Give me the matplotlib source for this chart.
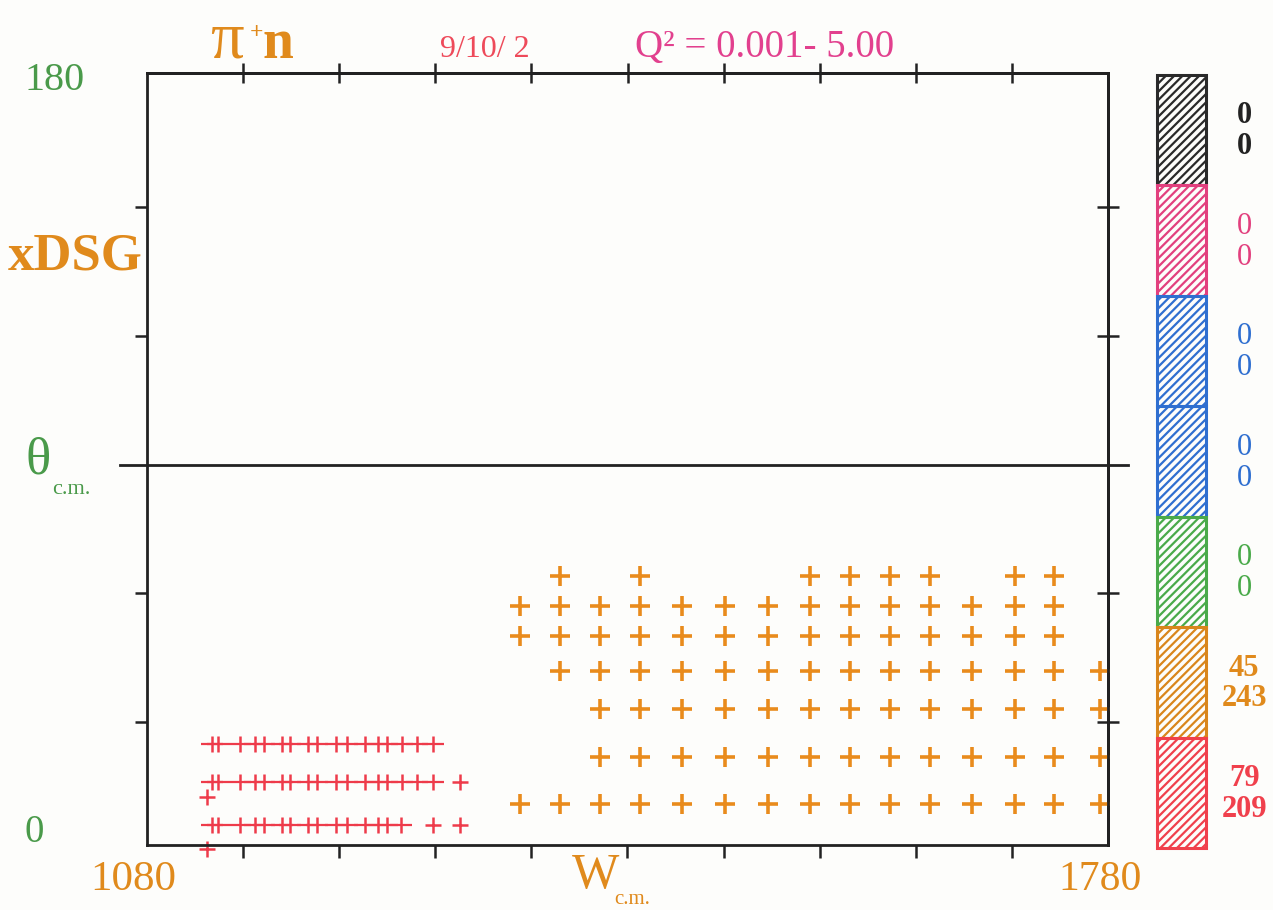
import numpy as np
import matplotlib
matplotlib.use("Agg")
import matplotlib.pyplot as plt
import matplotlib.patches as pat

plt.rcParams['font.family'] = ['Liberation Serif', 'DejaVu Serif']
plt.rcParams['hatch.linewidth'] = 1.6

# ---- data ----
# red (lower W) points: three rows of bins plus a few stray points
red_W_rows = [
    [1127, 1132, 1148, 1159, 1165, 1178, 1184, 1197, 1204, 1218, 1226, 1239, 1248, 1255, 1266, 1277, 1288],
    [1127, 1132, 1148, 1159, 1165, 1178, 1184, 1197, 1204, 1218, 1226, 1239, 1248, 1255, 1266, 1277, 1288],
    [1127, 1132, 1148, 1159, 1165, 1178, 1184, 1197, 1204, 1218, 1226, 1239, 1248, 1255, 1265],
]
red_th_rows = [25, 16, 6]
red_single_W = [1308, 1288, 1308, 1124, 1124]
red_single_th = [16, 6, 6, 12.5, 0.5]

# orange (higher W) grid
orange_cols = [1352, 1381, 1410, 1439, 1470, 1501, 1532, 1563, 1592, 1621, 1650, 1681, 1712, 1741, 1774]
orange_rows = {
    64: [1381, 1439, 1563, 1592, 1621, 1650, 1712, 1741],
    57: orange_cols[:14],
    50: orange_cols[:14],
    42: orange_cols[1:],
    33: orange_cols[2:],
    22: orange_cols[2:],
    11: orange_cols,
}

# colour key on the right
key_colors = ['#2a2a2a', '#e2407e', '#2f6fd0', '#2f6fd0', '#4aaa4a', '#d9861c', '#f0404c']
key_top = ['0', '0', '0', '0', '0', '45', '79']
key_bot = ['0', '0', '0', '0', '0', '243', '209']
key_text_colors = ['#222222', '#e2407e', '#2f6fd0', '#2f6fd0', '#4aaa4a', '#e08a1c', '#f0404c']
key_bold = [True, False, False, False, False, True, True]

xticks = np.arange(1150, 1711, 70)
yticks = [30, 60, 120, 150]

W_px, H_px = 1273, 910
fig = plt.figure(figsize=(W_px / 100, H_px / 100), dpi=100)
fig.patch.set_facecolor('#fdfdfb')

ax = fig.add_axes([147 / W_px, 1 - 845 / H_px, (1108 - 147) / W_px, (845 - 73) / H_px])
ax.set_facecolor('#fdfdfb')
ax.set_xlim(1080, 1780)
ax.set_ylim(1.4, 181.2)
for s in ax.spines.values():
    s.set_linewidth(2.0)
    s.set_color('#222222')

ax.set_xticks(xticks)
ax.set_yticks(yticks)
ax.tick_params(axis='both', direction='out', length=9, width=1.8, color='#222222',
               labelbottom=False, labelleft=False)

# top and right ticks cross the frame
top = ax.secondary_xaxis('top')
top.set_xticks(xticks)
top.tick_params(direction='inout', length=14, width=1.8, color='#222222', labeltop=False)
top.spines['top'].set_linewidth(2.0)
right = ax.secondary_yaxis('right')
right.set_yticks(yticks)
right.tick_params(direction='inout', length=16, width=1.8, color='#222222', labelright=False)
right.spines['right'].set_linewidth(2.0)

ax.axhline(90, xmin=-0.028, xmax=1.021, color='#222222', lw=2.0, clip_on=False)

red = '#ee3b4a'
orange = '#e98b1c'

# red bins: wide horizontal arm, shorter vertical arm
for th, ws in zip(red_th_rows, red_W_rows):
    ax.plot(ws, [th] * len(ws), ls='none', marker='_', ms=16, mew=1.6, color=red, clip_on=False)
    ax.plot(ws, [th] * len(ws), ls='none', marker='|', ms=12, mew=1.8, color=red, clip_on=False)
ax.plot(red_single_W, red_single_th, ls='none', marker='+', ms=11, mew=1.8, color=red, clip_on=False)

for th, ws in orange_rows.items():
    ax.plot(ws, [th] * len(ws), ls='none', marker='+', ms=14, mew=2.6, color=orange, clip_on=False)

# ---- labels around the frame ----
green = '#4a9a4a'
ax_or = '#e08a1c'
fig.text(210 / W_px, 1 - 58 / H_px, 'π', color=ax_or, fontsize=48, va='baseline', ha='left')
fig.text(250 / W_px, 1 - 38 / H_px, '+', color=ax_or, fontsize=17, fontweight='bold',
         va='baseline', ha='left')
fig.text(262 / W_px, 1 - 58 / H_px, 'n', color=ax_or, fontsize=40, fontweight='bold',
         va='baseline', ha='left')
fig.text(440 / W_px, 1 - 57 / H_px, '9/10/ 2', color='#ee4a5a', fontsize=23,
         va='baseline', ha='left')
fig.text(635 / W_px, 1 - 57 / H_px, 'Q² = 0.001- 5.00', color='#e2408e', fontsize=28,
         va='baseline', ha='left')
fig.text(25 / W_px, 1 - 80 / H_px, '180', color=green, fontsize=29, va='center', ha='left')
fig.text(8 / W_px, 1 - 257 / H_px, 'xDSG', color=ax_or, fontsize=38, fontweight='bold',
         va='center', ha='left')
fig.text(25 / W_px, 1 - 460 / H_px, 'θ', color=green, fontsize=38, va='center', ha='left')
fig.text(52 / W_px, 1 - 490 / H_px, 'c.m.', color=green, fontsize=16, va='center', ha='left')
fig.text(25 / W_px, 1 - 832 / H_px, '0', color=green, fontsize=28, va='center', ha='left')
fig.text(90 / W_px, 1 - 880 / H_px, '1080', color=ax_or, fontsize=31, va='center', ha='left')
fig.text(572 / W_px, 1 - 876 / H_px, 'W', color=ax_or, fontsize=36, va='center', ha='left')
fig.text(614 / W_px, 1 - 900 / H_px, 'c.m.', color=ax_or, fontsize=15, va='center', ha='left')
fig.text(1058 / W_px, 1 - 880 / H_px, '1780', color=ax_or, fontsize=30, va='center', ha='left')

# ---- colour key ----
kax = fig.add_axes([1157 / W_px, 1 - 848 / H_px, (1206 - 1157) / W_px, (848 - 75) / H_px])
kax.set_xlim(0, 1)
kax.set_ylim(0, len(key_colors))
kax.axis('off')
n = len(key_colors)
for i, c in enumerate(key_colors):
    y0 = n - 1 - i
    kax.add_patch(pat.Rectangle((0, y0), 1, 1, facecolor='none', edgecolor=c,
                                hatch='////', lw=2.2, clip_on=False))
    fw = 'bold' if key_bold[i] else 'normal'
    kax.text(1.78, y0 + 0.63, key_top[i], color=key_text_colors[i], fontsize=22,
             ha='center', va='center', fontweight=fw,
             transform=kax.transData, clip_on=False)
    kax.text(1.78, y0 + 0.35, key_bot[i], color=key_text_colors[i], fontsize=22,
             ha='center', va='center', fontweight=fw,
             transform=kax.transData, clip_on=False)

fig.savefig('out.png', dpi=100, facecolor=fig.get_facecolor())
